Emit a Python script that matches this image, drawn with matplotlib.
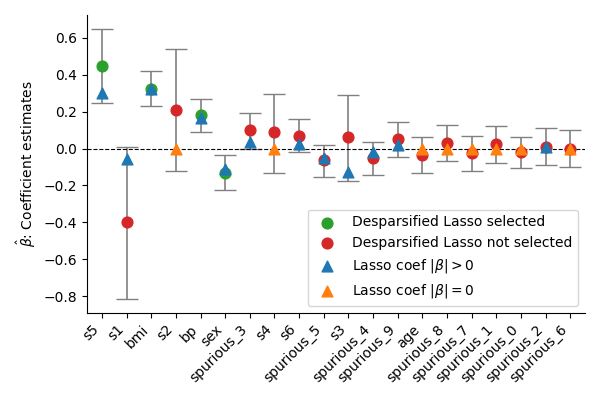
import matplotlib
matplotlib.use("Agg")
import matplotlib.pyplot as plt
import numpy as np

features = ["s5","s1","bmi","s2","bp","sex","spurious_3","s4","s6","spurious_5","s3",
            "spurious_4","spurious_9","age","spurious_8","spurious_7","spurious_1",
            "spurious_0","spurious_2","spurious_6"]
desp = [0.445,-0.40,0.32,0.21,0.18,-0.13,0.10,0.09,0.07,-0.06,0.06,-0.05,0.05,-0.035,
        0.03,-0.025,0.025,-0.02,0.01,0.0]
selected = [True,False,True,False,True,True]+[False]*14
ci_low = [0.245,-0.815,0.23,-0.12,0.09,-0.225,0.0,-0.13,-0.02,-0.155,-0.175,-0.145,-0.045,
          -0.135,-0.07,-0.12,-0.08,-0.105,-0.09,-0.10]
ci_high = [0.65,0.01,0.42,0.54,0.27,-0.035,0.195,0.295,0.16,0.02,0.29,0.035,0.145,0.06,
           0.125,0.07,0.12,0.065,0.11,0.10]
lasso = [0.30,-0.055,0.32,0.0,0.165,-0.11,0.035,0.0,0.025,-0.05,-0.125,-0.02,0.02,0.0,
         0.0,0.0,0.0,0.0,0.01,0.0]

x = np.arange(len(features))
d = np.array(desp); lo = np.array(ci_low); hi = np.array(ci_high)
sel = np.array(selected); la = np.array(lasso)

fig, ax = plt.subplots(figsize=(6,4), dpi=100)
ax.axhline(0, color="black", lw=0.8, ls="--")
ax.errorbar(x, d, yerr=[d-lo, hi-d], fmt="none", ecolor="grey", capsize=8, lw=1.2, zorder=1)
ax.scatter(x[sel], d[sel], color="tab:green", s=60, zorder=2, label="Desparsified Lasso selected")
ax.scatter(x[~sel], d[~sel], color="tab:red", s=60, zorder=2, label="Desparsified Lasso not selected")
nz = la != 0
ax.scatter(x[nz], la[nz], color="tab:blue", marker="^", s=60, zorder=3, label=r"Lasso coef $|\beta|>0$")
ax.scatter(x[~nz], la[~nz], color="tab:orange", marker="^", s=60, zorder=3, label=r"Lasso coef $|\beta|=0$")
ax.set_xticks(x)
ax.set_xticklabels(features, rotation=45, ha="right")
ax.set_ylabel(r"$\hat{\beta}$: Coefficient estimates")
ax.set_xlim(-0.6, 19.6)
ax.spines["top"].set_visible(False)
ax.spines["right"].set_visible(False)
ax.legend(loc="lower right", fontsize=10)
fig.tight_layout()
fig.savefig("out.png")
